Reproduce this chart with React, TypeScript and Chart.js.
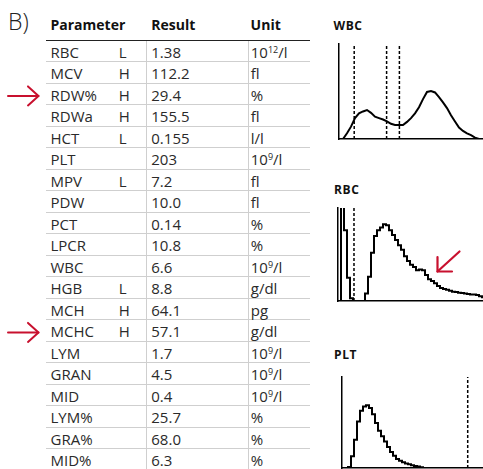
import React, { useEffect, useRef } from "react";
import { Chart, registerables } from "chart.js";

Chart.register(...registerables);

// ---------- table data ----------
const parameters = ["RBC", "MCV", "RDW%", "RDWa", "HCT", "PLT", "MPV", "PDW", "PCT", "LPCR", "WBC", "HGB", "MCH", "MCHC", "LYM", "GRAN", "MID", "LYM%", "GRA%", "MID%"];
const flags = ["L", "H", "H", "H", "L", "", "L", "", "", "", "", "L", "H", "H", "", "", "", "", "", ""];
const results = ["1.38", "112.2", "29.4", "155.5", "0.155", "203", "7.2", "10.0", "0.14", "10.8", "6.6", "8.8", "64.1", "57.1", "1.7", "4.5", "0.4", "25.7", "68.0", "6.3"];
const units = ["10^12/l", "fl", "%", "fl", "l/l", "10^9/l", "fl", "fl", "%", "%", "10^9/l", "g/dl", "pg", "g/dl", "10^9/l", "10^9/l", "10^9/l", "%", "%", "%"];
const headers = ["Parameter", "Result", "Unit"];
const markedRows = ["RDW%", "MCHC"];

// ---------- histogram data (channel counts, % of full scale) ----------
const wbcCounts = [null, 0, 6, 13, 22, 27, 29, 30.5, 27.5, 23.5, 22, 20.5, 18.5, 16, 14.7, 14.7, 14.7, 18, 22, 27, 33.5, 42, 49.5, 50.5, 49, 44, 38.5, 32.5, 25, 18.5, 12, 8.5, 6, 4, 1.5, 0, 0];
const wbcGates = [3.8, 11.9, 15.1];
const rbcCounts = [0, 140, 76, 25, 3, 0, 0, 0, 0, 8, 26, 52, 70, 76, 79, 82.5, 81.5, 76, 71, 65.5, 60, 55, 48, 43, 39, 36.5, 33, 34, 33, 28, 23.5, 21.5, 19, 16, 14, 13, 12, 11, 10, 9.7, 9, 8.6, 8, 7.5, 7, 7, 6.5, 5, 4];
const rbcGates = [4.83];
const pltCounts = [0, 0, 1, 13, 31, 51, 63, 67.5, 69, 66, 59, 49.5, 41, 35, 29, 23, 17.5, 13.5, 10, 8, 6.3, 5, 4, 3, 2.2, 1.6, 0.7, 0, 0, 0, 0, 0, 0, 0, 0, 0, 0];
const pltGates = [41.4];

const FONT = "'Open Sans', 'Noto Sans', sans-serif";
const RED = "#c8102e";

type HistProps = {
  counts: (number | null)[];
  gates: number[];
  xMin: number;
  xMax: number;
  left: number;
  top: number;
  width: number;
  height: number;
  stepped: any;
};

function Histogram({ counts, gates, xMin, xMax, left, top, width, height, stepped }: HistProps) {
  const ref = useRef<HTMLCanvasElement>(null);
  useEffect(() => {
    const yMax = 100;
    const curve = counts
      .map((v, i) => ({ x: i, y: v }))
      .filter((p) => p.y !== null);
    const datasets: any[] = [
      {
        data: curve,
        borderColor: "#000",
        borderWidth: 2,
        stepped,
        tension: 0,
        pointRadius: 0,
        fill: false,
      },
      ...gates.map((g) => ({
        data: [
          { x: g, y: 0 },
          { x: g, y: yMax },
        ],
        borderColor: "#000",
        borderWidth: 1.5,
        borderDash: [3, 2],
        pointRadius: 0,
        fill: false,
      })),
    ];
    const axis = (min: number, max: number) => ({
      type: "linear" as const,
      min,
      max,
      ticks: { display: false },
      grid: { display: false, drawTicks: false },
      border: { display: true, color: "#000", width: 1.5 },
    });
    const chart = new Chart(ref.current!, {
      type: "line",
      data: { datasets },
      options: {
        animation: false,
        responsive: false,
        events: [],
        layout: { padding: { left: 4, top: 4, right: 0, bottom: 4 } },
        plugins: { legend: { display: false }, tooltip: { enabled: false }, title: { display: false } },
        scales: { x: axis(xMin, xMax), y: axis(0, yMax) },
      },
    });
    return () => chart.destroy();
  }, []);
  return (
    <canvas
      ref={ref}
      width={width}
      height={height}
      style={{ position: "absolute", left, top, width, height }}
    />
  );
}

function Txt({ x, baseline, size, weight = 400, children, color = "#2a2a2a", spacing = 0 }: any) {
  return (
    <div
      style={{
        position: "absolute",
        left: x,
        top: baseline - 0.888 * size,
        fontSize: size,
        lineHeight: `${size}px`,
        fontWeight: weight,
        fontFamily: FONT,
        color,
        whiteSpace: "nowrap",
        letterSpacing: spacing,
      }}
    >
      {children}
    </div>
  );
}

function Unit({ u }: { u: string }) {
  const m = u.match(/^(\d+)\^(\d+)(.*)$/);
  if (!m) return <>{u}</>;
  return (
    <>
      {m[1]}
      <span style={{ fontSize: 9, position: "relative", top: -5 }}>{m[2]}</span>
      {m[3]}
    </>
  );
}

const rowTop = (i: number) => 40.4 + i * 21.5;

export default function App() {
  const colX = [50.5, 118.8, 151.3, 250.8];
  return (
    <div
      style={{
        position: "absolute",
        left: 0,
        top: 0,
        width: 483,
        height: 469,
        overflow: "hidden",
        background: "#fff",
      }}
    >
      <Txt x={8} baseline={30} size={23} weight={300} color="#222">
        B)
      </Txt>
      {/* header */}
      <Txt x={50.5} baseline={30} size={14} weight={700} color="#111">
        {headers[0]}
      </Txt>
      <Txt x={151.3} baseline={30} size={14} weight={700} color="#111">
        {headers[1]}
      </Txt>
      <Txt x={250.6} baseline={30} size={14} weight={700} color="#111">
        {headers[2]}
      </Txt>
      {/* grid lines */}
      {parameters.map((_, i) => (
        <div
          key={"h" + i}
          style={{
            position: "absolute",
            left: 46,
            width: 264,
            top: rowTop(i) - (i === 0 ? 0.75 : 0.5),
            height: i === 0 ? 1.5 : 1,
            background: i === 0 ? "#222" : "#cfcfcf",
          }}
        />
      ))}
      {[146, 247.5].map((x) => (
        <div
          key={"v" + x}
          style={{
            position: "absolute",
            left: x,
            width: 1,
            top: rowTop(0) + 0.75,
            height: 469 - rowTop(0),
            background: "#cfcfcf",
          }}
        />
      ))}
      {/* rows */}
      {parameters.map((p, i) => {
        const b = rowTop(i) + 17.6;
        return (
          <React.Fragment key={p}>
            <Txt x={colX[0]} baseline={b} size={15}>{p}</Txt>
            <Txt x={colX[1]} baseline={b} size={15}>{flags[i]}</Txt>
            <Txt x={colX[2]} baseline={b} size={15}>{results[i]}</Txt>
            <Txt x={colX[3]} baseline={b} size={15}>
              <Unit u={units[i]} />
            </Txt>
          </React.Fragment>
        );
      })}

      {/* histogram titles */}
      <Txt x={333.5} baseline={30.7} size={12} weight={700} color="#111" spacing={0.6}>WBC</Txt>
      <Txt x={334} baseline={194.3} size={12} weight={700} color="#111" spacing={0.6}>RBC</Txt>
      <Txt x={334} baseline={360} size={12} weight={700} color="#111" spacing={0.6}>PLT</Txt>

      {/* histograms */}
      <Histogram counts={wbcCounts} gates={wbcGates} xMin={0} xMax={37} left={335} top={40} width={152} height={103} stepped={false} />
      <Histogram counts={rbcCounts} gates={rbcGates} xMin={-0.5} xMax={49.17} left={334} top={204} width={153} height={101} stepped="middle" />
      <Histogram counts={pltCounts} gates={pltGates} xMin={-0.5} xMax={47.83} left={338} top={373} width={149} height={99} stepped="middle" />

      {/* red markers */}
      <svg
        width={483}
        height={469}
        style={{ position: "absolute", left: 0, top: 0, pointerEvents: "none" }}
      >
        {markedRows.map((name) => {
          const i = parameters.indexOf(name);
          const y = rowTop(i) + 12.5;
          return (
            <g key={name} stroke={RED} strokeWidth={2} fill="none" strokeLinecap="round" strokeLinejoin="round">
              <line x1={8} y1={y} x2={38.5} y2={y} />
              <polyline points={`28,${y - 9.5} 38.5,${y} 28,${y + 9.5}`} />
            </g>
          );
        })}
        <g stroke={RED} strokeWidth={2.2} fill="none" strokeLinecap="round" strokeLinejoin="round">
          <line x1={459.5} y1={251.5} x2={437.5} y2={271.5} />
          <polyline points="437.5,257 437.5,271.5 452,271.5" />
        </g>
      </svg>
    </div>
  );
}
